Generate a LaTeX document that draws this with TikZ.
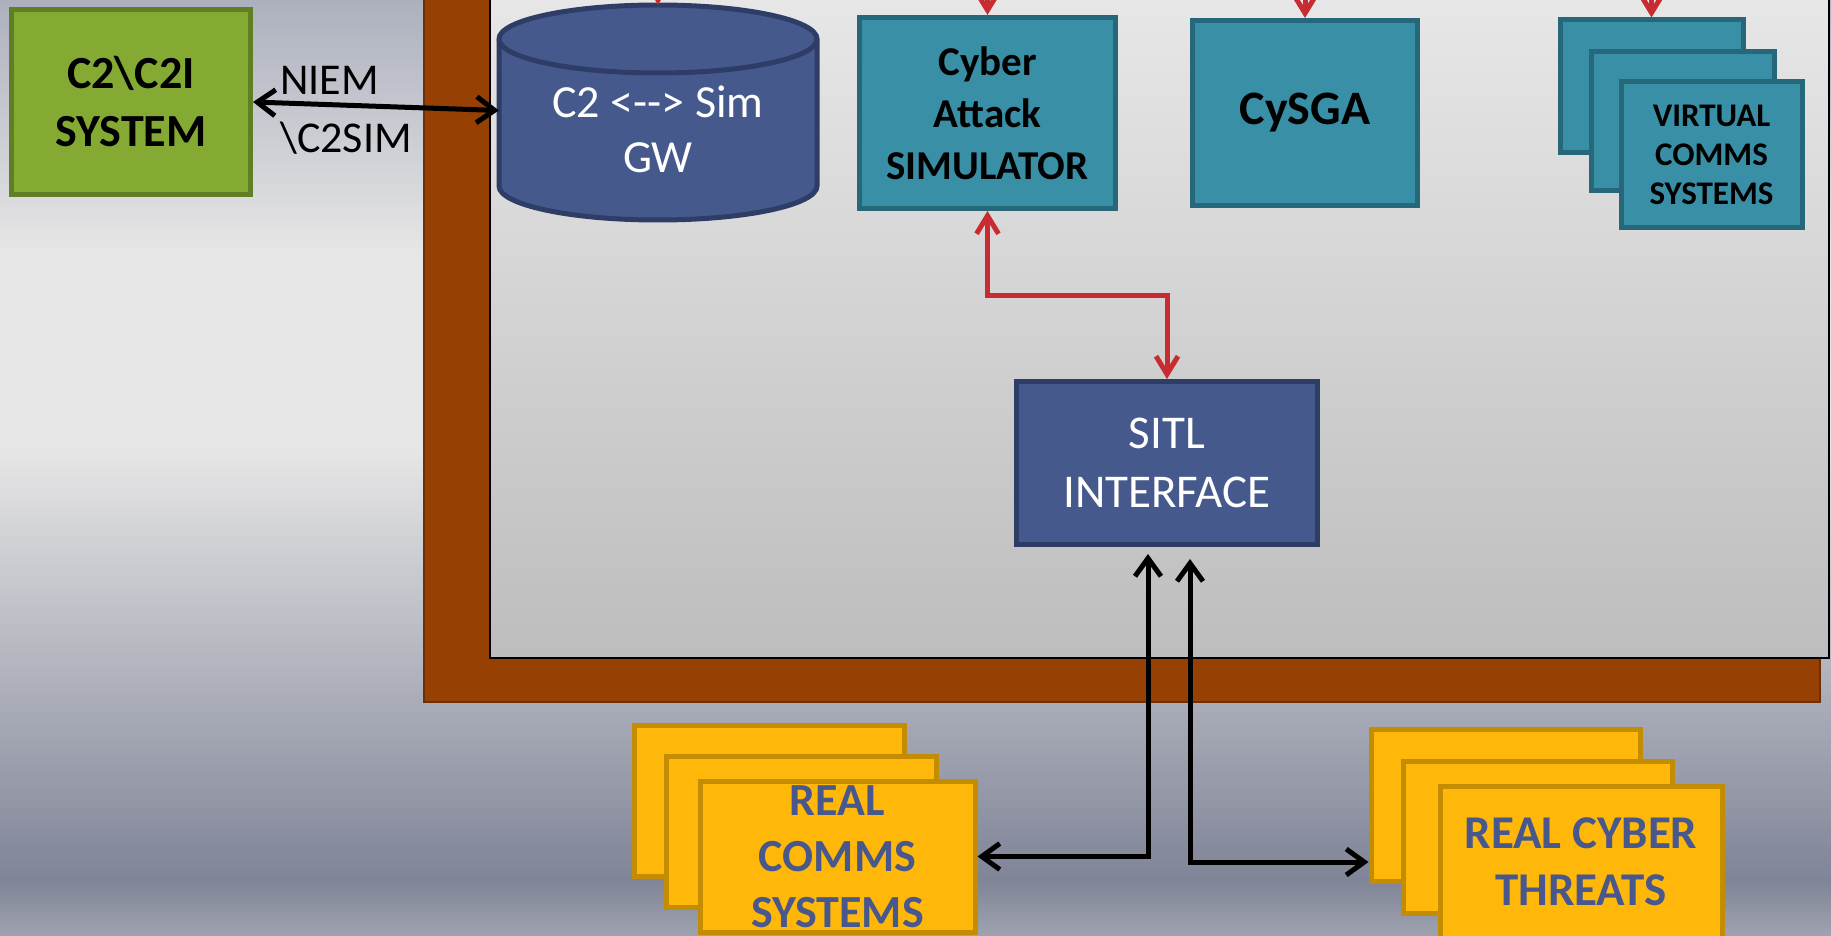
\documentclass[tikz,border=0pt]{standalone}
\usepackage{fontspec}
\setmainfont{Carlito}
\usetikzlibrary{arrows.meta}
\definecolor{bgtop}{RGB}{172,176,189}
\definecolor{bglight}{RGB}{230,230,230}
\definecolor{bgdark}{RGB}{127,132,151}
\definecolor{bgbot}{RGB}{160,164,176}
\definecolor{panetop}{RGB}{232,232,232}
\definecolor{panebot}{RGB}{189,189,189}
\definecolor{framebr}{RGB}{150,64,4}
\definecolor{framedk}{RGB}{112,46,3}
\definecolor{cgreen}{RGB}{132,170,51}
\definecolor{cgreendk}{RGB}{96,126,36}
\definecolor{navy}{RGB}{70,89,140}
\definecolor{navydk}{RGB}{46,61,102}
\definecolor{tealc}{RGB}{57,143,166}
\definecolor{tealdk}{RGB}{38,104,121}
\definecolor{amber}{RGB}{255,184,10}
\definecolor{amberdk}{RGB}{196,140,0}
\definecolor{ambtext}{RGB}{72,88,140}
\definecolor{redln}{RGB}{200,44,48}
\newcommand\fsz[2]{\fontsize{#1}{#2}\selectfont}

\begin{document}
\begin{tikzpicture}[x=1pt,y=1pt,
  box/.style={draw,line width=5pt,inner sep=0pt,align=center},
  c2box/.style={box,fill=cgreen,draw=cgreendk,font=\fsz{46}{58}\bfseries},
  tealbox/.style={box,fill=tealc,draw=tealdk,font=\fsz{48}{58}\bfseries},
  navybox/.style={box,fill=navy,draw=navydk,text=white,font=\fsz{47}{59}},
  ambbox/.style={box,fill=amber,draw=amberdk,text=ambtext,font=\fsz{46}{56}\bfseries},
  lbl/.style={inner sep=0pt,anchor=west,font=\fsz{44}{50}},
  redarr/.style={draw=redln,line width=5pt,>={Straight Barb[length=18pt,width=22pt]}},
  blkarr/.style={draw=black,line width=5pt,>={Straight Barb[length=18pt,width=26pt]}}]
\clip (0,0) rectangle (1831,-936);
\shade[top color=bgtop,bottom color=bglight] (0,1) rectangle (1831,-251);
\fill[bglight] (0,-250) rectangle (1831,-451);
\shade[top color=bglight,bottom color=bgdark] (0,-450) rectangle (1831,-881);
\shade[top color=bgdark,bottom color=bgbot] (0,-880) rectangle (1831,-937);
\filldraw[fill=framebr,draw=framedk,line width=2pt] (424,20) rectangle (1820,-702);
\shade[top color=panetop,bottom color=panebot] (490,20) rectangle (1829,-658);
\draw[line width=2.5pt] (490,20) -- (490,-658) -- (1829,-658) -- (1829,20);

\node[c2box,minimum width=239,minimum height=185] (c2) at (131,-102) {C2\textbackslash C2I\\SYSTEM};
\node[lbl] (niem) at (280,-80) {NIEM};
\node[lbl] (c2sim) at (280,-138) {\textbackslash C2SIM};

\filldraw[fill=navy,draw=navydk,line width=5pt] (499,-39) -- (499,-186) arc[start angle=180,end angle=360,x radius=159,y radius=34] -- (817,-39) arc[start angle=0,end angle=180,x radius=159,y radius=34] -- cycle;
\draw[navydk,line width=5pt] (499,-39) arc[start angle=180,end angle=360,x radius=159,y radius=34];
\node[text=white,align=center,font=\fsz{46}{55},minimum width=318,minimum height=181] (gw) at (658,-129.5) {C2 <{-}{-}> Sim\\GW};

\node[tealbox,minimum width=256,minimum height=191,font=\fsz{41}{52}\bfseries] (cas) at (987.5,-113) {Cyber\\Attack\\SIMULATOR};
\node[tealbox,minimum width=225,minimum height=185] (cysga) at (1305,-113) {CySGA};
\foreach \i/\x/\y/\h in {1/1651.5/-86.5/133,2/1682.5/-121.5/139}
  \node[tealbox,minimum width=183,minimum height=\h] (vcs\i) at (\x,\y) {};
\node[tealbox,minimum width=181,minimum height=146,font=\fsz{33}{39}\bfseries] (vcs) at (1711.5,-155) {VIRTUAL\\COMMS\\SYSTEMS};

\node[navybox,minimum width=301,minimum height=163] (sitl) at (1167,-463) {SITL\\INTERFACE};

\foreach \i/\x/\y in {1/769.5/-800.5,2/801/-832}
  \node[ambbox,minimum width=270,minimum height=151] (rcs\i) at (\x,\y) {};
\node[ambbox,minimum width=275,minimum height=151] (rcs) at (837.5,-856.5) {REAL\\COMMS\\SYSTEMS};
\foreach \i/\x/\y in {1/1505.5/-805,2/1538/-837}
  \node[ambbox,minimum width=269,minimum height=152] (rct\i) at (\x,\y) {};
\node[ambbox,font=\fsz{47}{57}\bfseries,minimum width=282,minimum height=152] (rct) at (1581,-862) {REAL CYBER\\THREATS};

\draw[blkarr,<->] (c2.east) -- ([yshift=19pt]gw.west);
\draw[redarr,->] ([yshift=74pt]gw.north) -- ([yshift=34pt]gw.north);
\foreach \n in {cas,cysga,vcs1}
  \draw[redarr,->] (\n.north) ++(0,40) -- (\n.north);
\draw[redarr,<->] (cas.south) -- ++(0,-84) -| (sitl.north);
\draw[blkarr,<->] ([shift={(-19,-7)}]sitl.south) |- (rcs.east);
\draw[blkarr,<->] ([shift={(23,-12)}]sitl.south) |- (rct1.west|-rct);
\end{tikzpicture}
\end{document}
